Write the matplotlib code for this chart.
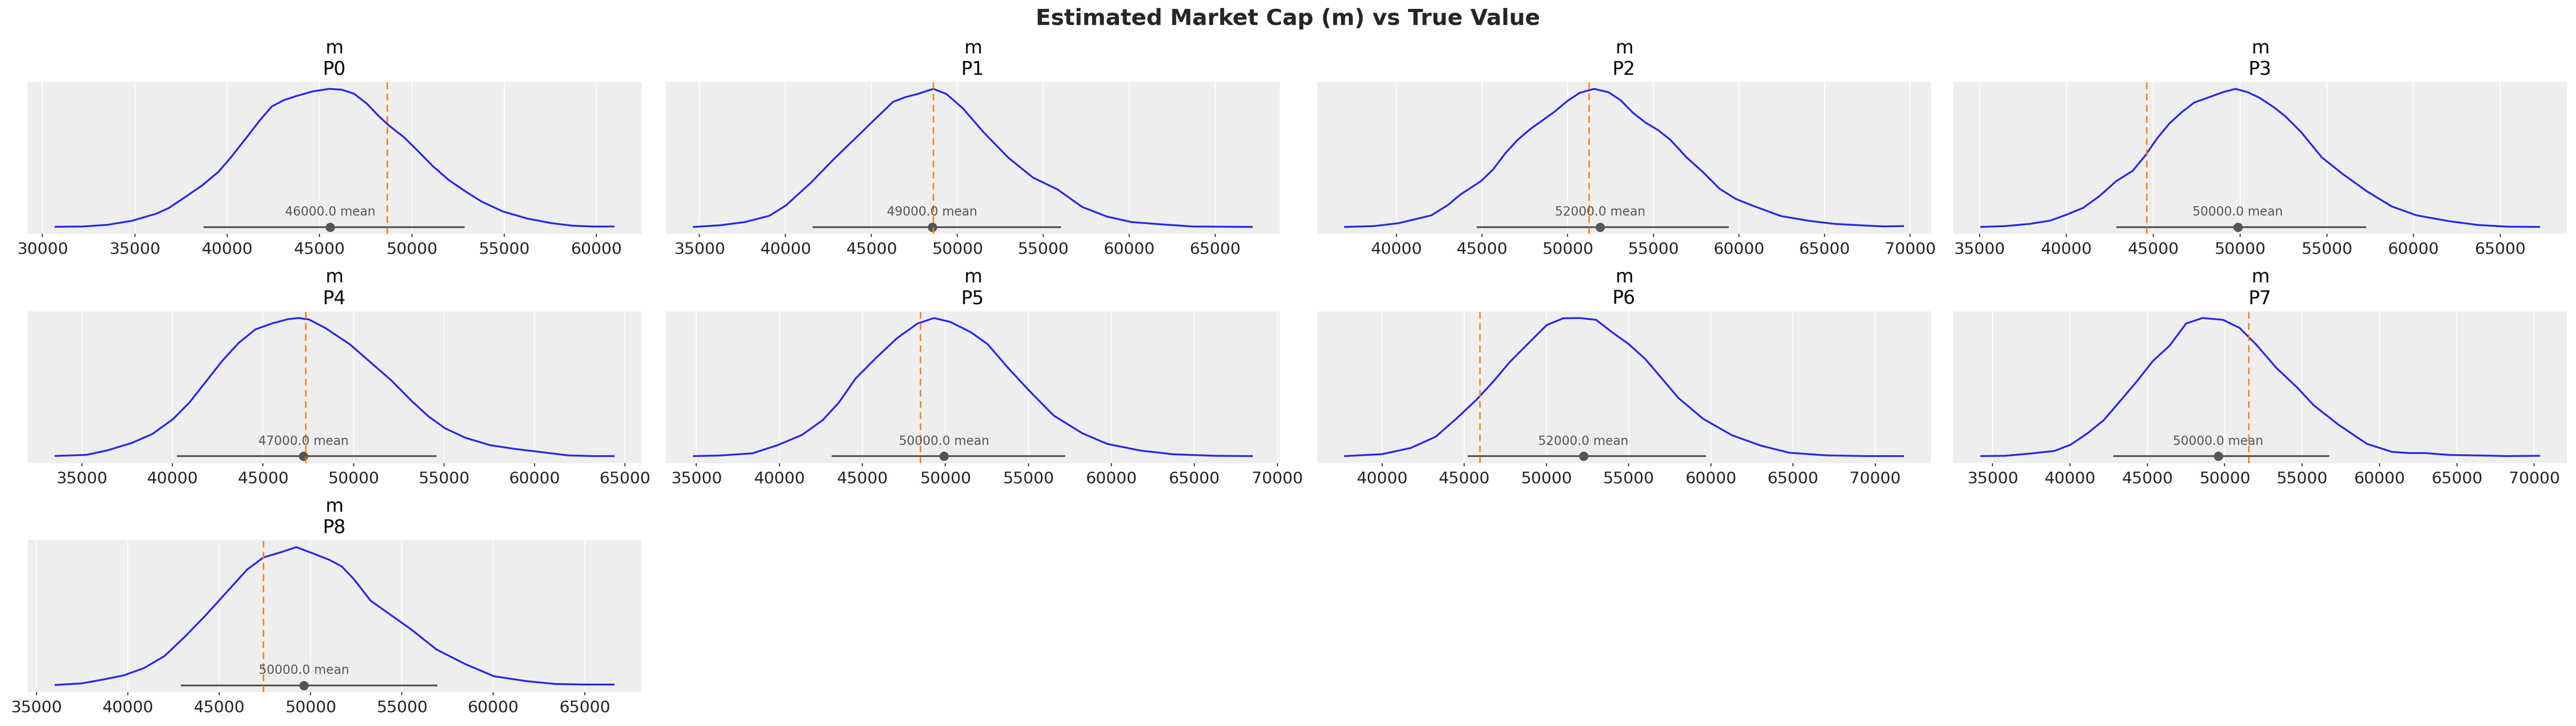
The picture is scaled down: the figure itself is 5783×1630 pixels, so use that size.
import matplotlib.pyplot as plt
from matplotlib.ticker import MultipleLocator

# posterior density (peak scaled to 1)
names = ["P0", "P1", "P2", "P3", "P4", "P5", "P6", "P7", "P8"]

x0 = [30710, 32160, 33500, 34840, 36170, 36840, 37740, 38630, 39520, 40190, 41080, 41750, 42420, 43080, 43750,
      44650, 45540, 46210, 46870, 47540, 48210, 48770, 49550, 50220, 51110, 52000, 52890, 53780, 54900, 56240,
      57570, 58690, 59800, 60920]
y0 = [0.001, 0.003, 0.015, 0.044, 0.096, 0.136, 0.217, 0.298, 0.397, 0.5, 0.651, 0.767, 0.871, 0.917, 0.946,
      0.98, 0.998, 0.992, 0.963, 0.894, 0.801, 0.732, 0.651, 0.564, 0.443, 0.339, 0.258, 0.183, 0.113, 0.061,
      0.027, 0.009, 0.003, 0.003]
x1 = [34670, 36200, 37630, 39070, 40030, 41460, 42900, 44340, 45290, 46250, 46970, 47690, 48600, 49360, 50320,
      51520, 52960, 54390, 55830, 57270, 58700, 60140, 62050, 63730, 67130]
y1 = [0, 0.012, 0.035, 0.081, 0.156, 0.318, 0.502, 0.675, 0.79, 0.905, 0.94, 0.963, 1.0, 0.963, 0.859,
      0.686, 0.502, 0.358, 0.271, 0.144, 0.075, 0.035, 0.017, 0.003, 0]
x2 = [37000, 38680, 40120, 42040, 43010, 43730, 44930, 45650, 46370, 47090, 47810, 48530, 49260, 49980, 50700,
      51540, 52380, 53100, 53820, 54540, 55270, 55990, 56950, 57910, 58870, 59830, 61040, 62480, 64160, 65600,
      67530, 68490, 69590]
y2 = [0, 0.006, 0.027, 0.084, 0.159, 0.234, 0.331, 0.417, 0.535, 0.632, 0.708, 0.772, 0.837, 0.912, 0.971,
      1.0, 0.976, 0.917, 0.826, 0.756, 0.702, 0.632, 0.503, 0.396, 0.277, 0.202, 0.143, 0.078, 0.043, 0.022,
      0.009, 0.004, 0.006]
x3 = [35100, 36470, 37890, 39080, 40020, 40970, 41920, 42870, 43820, 44530, 45240, 45950, 46660, 47370, 48320,
      49030, 49740, 50450, 51160, 51870, 52590, 53530, 54720, 55900, 57330, 58750, 60170, 62070, 63720, 65380,
      67230]
y3 = [0, 0.006, 0.022, 0.046, 0.089, 0.138, 0.224, 0.331, 0.406, 0.514, 0.643, 0.751, 0.832, 0.901, 0.944,
      0.976, 1.0, 0.976, 0.933, 0.874, 0.804, 0.686, 0.503, 0.385, 0.256, 0.148, 0.084, 0.041, 0.014, 0.002, 0]
x4 = [33540, 35250, 36390, 37750, 38890, 40030, 40930, 41840, 42750, 43660, 44570, 45480, 46390, 46960, 47530,
      48440, 49800, 50940, 52080, 53220, 54120, 55030, 56170, 57540, 58900, 60490, 61860, 63220, 64360]
y4 = [0.001, 0.009, 0.041, 0.095, 0.16, 0.268, 0.387, 0.538, 0.69, 0.82, 0.917, 0.96, 0.992, 1.0, 0.99,
      0.928, 0.809, 0.679, 0.549, 0.398, 0.29, 0.203, 0.133, 0.079, 0.052, 0.027, 0.005, 0, 0]
x5 = [34850, 36390, 38380, 39870, 41360, 42610, 43600, 44590, 45840, 47080, 48320, 49320, 50310, 51550, 52550,
      53790, 55030, 56530, 58270, 59760, 61750, 63730, 66220, 68460]
y5 = [0, 0.004, 0.02, 0.078, 0.153, 0.26, 0.39, 0.562, 0.713, 0.853, 0.96, 1.0, 0.971, 0.896, 0.81,
      0.637, 0.476, 0.293, 0.164, 0.088, 0.04, 0.013, 0.002, 0]
x6 = [37750, 40000, 41750, 43260, 44510, 45760, 46760, 47760, 49020, 50020, 51020, 52020, 53020, 54020, 55030,
      56030, 57030, 58030, 59530, 61290, 63040, 64790, 67050, 69550, 71700]
y6 = [0, 0.014, 0.059, 0.14, 0.27, 0.41, 0.539, 0.68, 0.831, 0.949, 0.998, 1.0, 0.987, 0.895, 0.809,
      0.701, 0.561, 0.421, 0.27, 0.151, 0.076, 0.024, 0.005, 0, 0]
x7 = [34260, 35800, 37390, 38990, 40050, 41120, 42180, 43250, 44310, 45370, 46440, 47500, 48560, 49890, 50960,
      52020, 53350, 54680, 55750, 57340, 59200, 60800, 61860, 62930, 64520, 66650, 68250, 70320]
y7 = [0, 0.002, 0.018, 0.037, 0.083, 0.164, 0.26, 0.4, 0.54, 0.69, 0.8, 0.96, 1.0, 0.987, 0.928,
      0.809, 0.637, 0.497, 0.368, 0.228, 0.088, 0.031, 0.022, 0.022, 0.008, 0.004, 0, 0.002]
x8 = [36040, 37500, 38630, 39760, 40880, 42010, 43140, 44260, 45390, 46520, 47420, 48320, 49220, 50130, 51030,
      51700, 52380, 53280, 54410, 55540, 56890, 58470, 60040, 61850, 63420, 65000, 66580]
y8 = [0.002, 0.014, 0.041, 0.071, 0.124, 0.212, 0.354, 0.507, 0.672, 0.837, 0.926, 0.961, 1.0, 0.955, 0.908,
      0.861, 0.767, 0.613, 0.507, 0.401, 0.259, 0.153, 0.065, 0.029, 0.009, 0.005, 0.005]

kde_x = [x0, x1, x2, x3, x4, x5, x6, x7, x8]
kde_y = [y0, y1, y2, y3, y4, y5, y6, y7, y8]

means = [45580, 48530, 51900, 49880, 47230, 49910, 52250, 49570, 49630]
mean_labels = ["46000.0", "49000.0", "52000.0", "50000.0", "47000.0", "50000.0", "52000.0", "50000.0", "50000.0"]
ci_low = [38720, 41580, 44690, 42870, 40250, 43150, 45210, 42790, 42910]
ci_high = [52850, 56020, 59420, 57280, 54580, 57200, 59710, 56760, 56950]
true_vals = [48660, 48600, 51250, 44620, 47350, 48500, 45940, 51540, 47420]

W, H = 5783, 1631
fig = plt.figure(figsize=(W / 200, H / 200), dpi=200)

col_left = [62, 1495, 2957, 4385]
row_top = [185, 699.5, 1214]
ax_w, ax_h = 1378, 341

for i in range(len(names)):
    r, c = divmod(i, 4)
    ax = fig.add_axes([col_left[c] / W, (H - row_top[r] - ax_h) / H, ax_w / W, ax_h / H])
    ax.set_facecolor("#eeeeee")
    for s in ax.spines.values():
        s.set_visible(False)
    ax.grid(axis="x", color="white", lw=0.8)
    ax.set_axisbelow(True)

    ax.plot(kde_x[i], kde_y[i], color="#2a2ae8", lw=1.5, solid_joinstyle="round")
    ax.plot([ci_low[i], ci_high[i]], [0, 0], color="#555555", lw=1.45, solid_capstyle="butt")
    ax.plot([means[i]], [0], "o", color="#555555", ms=6.5)
    ax.text(means[i], 0.065, f"{mean_labels[i]} mean", ha="center", va="bottom",
            fontsize=10, color="#555555")
    ax.axvline(true_vals[i], color="#ff7f0e", lw=1.2, linestyle=(0, (4.5, 3)))

    ax.xaxis.set_major_locator(MultipleLocator(5000))
    ax.set_yticks([])
    ax.tick_params(axis="x", labelsize=13, length=2.5, width=0.8, color="#262626", labelcolor="#262626")
    ax.set_title(f"m\n{names[i]}", fontsize=15, pad=6)

fig.text(0.5, 1 - 18 / H, "Estimated Market Cap (m) vs True Value", ha="center", va="top",
         fontsize=18, fontweight="bold", color="#262626")

fig.savefig("out.png", dpi=200)
